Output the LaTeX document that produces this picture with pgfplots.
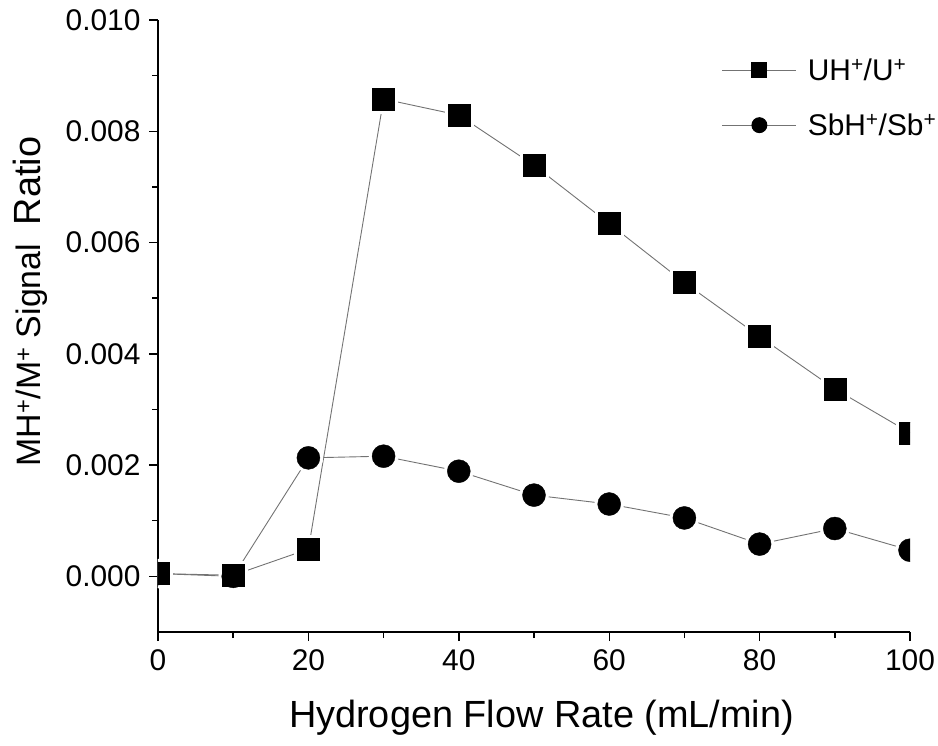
\documentclass[border=0pt]{standalone}
\usepackage{pgfplots}
\pgfplotsset{compat=1.18}
\usepackage{fontspec}
\setmainfont{Liberation Sans}
\pgfplotstableread{
x uh sb
0 0.00005 0.00005
10 0.00002 0.00000
20 0.00049 0.00213
30 0.00858 0.00216
40 0.00829 0.00189
50 0.00739 0.00146
60 0.00634 0.00130
70 0.00528 0.00105
80 0.00431 0.00058
90 0.00337 0.00086
100 0.00258 0.00047
}\data
\begin{document}
\begin{tikzpicture}
\useasboundingbox (-158bp,-114bp) rectangle (780bp,632bp);
\begin{axis}[
  at={(0,0)}, anchor=south west,
  scale only axis, width=752bp, height=612bp,
  xmin=0, xmax=100, ymin=-0.001, ymax=0.010,
  axis x line=bottom, axis y line=left,
  axis line style={-, line width=1.6bp},
  every tick/.style={black, line width=1.4bp},
  tick align=outside,
  major tick length=9bp, minor tick length=6bp,
  xtick={0,20,...,100}, minor x tick num=1,
  ytick={0,0.002,0.004,0.006,0.008,0.010}, minor y tick num=1,
  scaled y ticks=false,
  yticklabel style={xshift=-5bp, /pgf/number format/fixed, /pgf/number format/fixed zerofill, /pgf/number format/precision=3},
  /pgf/number format/assume math mode=true,
  tick label style={font=\fontsize{30}{34}\selectfont},
  xticklabel style={yshift=-5bp},
  xlabel={Hydrogen Flow Rate (mL/min)},
  ylabel={\fontsize{34}{38}\selectfont MH\textsuperscript{+}/M\textsuperscript{+} Signal\ \ \fontsize{38}{40}\selectfont Ratio},
  xlabel style={font=\fontsize{38}{42}\selectfont, at={(axis description cs:0.51,-0.14)}, anchor=center},
  ylabel style={at={(axis description cs:-0.17,0.54)}, anchor=center},
  clip marker paths=true,
  legend style={draw=none, fill=none, at={(axis description cs:0.747,0.944)}, anchor=north west,
    font=\fontsize{30}{34}\selectfont, row sep=28bp, inner sep=2bp},
  legend cell align=left,
  legend image code/.code={\draw[mark repeat=2,mark phase=2] plot coordinates {(0bp,0bp) (37bp,0bp) (74bp,0bp)};},
]
% lines
\addplot[forget plot, black!55, line width=0.9bp, no marks] table[x=x,y=uh] {\data};
\addplot[forget plot, black!55, line width=0.9bp, no marks] table[x=x,y=sb] {\data};
% halos
\addplot[forget plot, only marks, mark=square*, mark size=14bp, mark options={draw=white, fill=white}] table[x=x,y=uh] {\data};
\addplot[forget plot, only marks, mark=*, mark size=14.5bp, mark options={draw=white, fill=white}] table[x=x,y=sb] {\data};
% marks
\addplot[forget plot, only marks, mark=square*, mark size=11bp, mark options={draw=black, fill=black}] table[x=x,y=uh] {\data};
\addplot[forget plot, only marks, mark=*, mark size=11.5bp, mark options={draw=black, fill=black}] table[x=x,y=sb] {\data};
\addlegendimage{black!55, line width=0.9bp, mark=square*, mark options={draw=black, fill=black, mark size=7.5bp}}
\addlegendentry{\hspace{9bp}UH\textsuperscript{+}/U\textsuperscript{+}}
\addlegendimage{black!55, line width=0.9bp, mark=*, mark options={draw=black, fill=black, mark size=7.5bp}}
\addlegendentry{\hspace{9bp}SbH\textsuperscript{+}/Sb\textsuperscript{+}}
\end{axis}
\end{tikzpicture}
\end{document}
